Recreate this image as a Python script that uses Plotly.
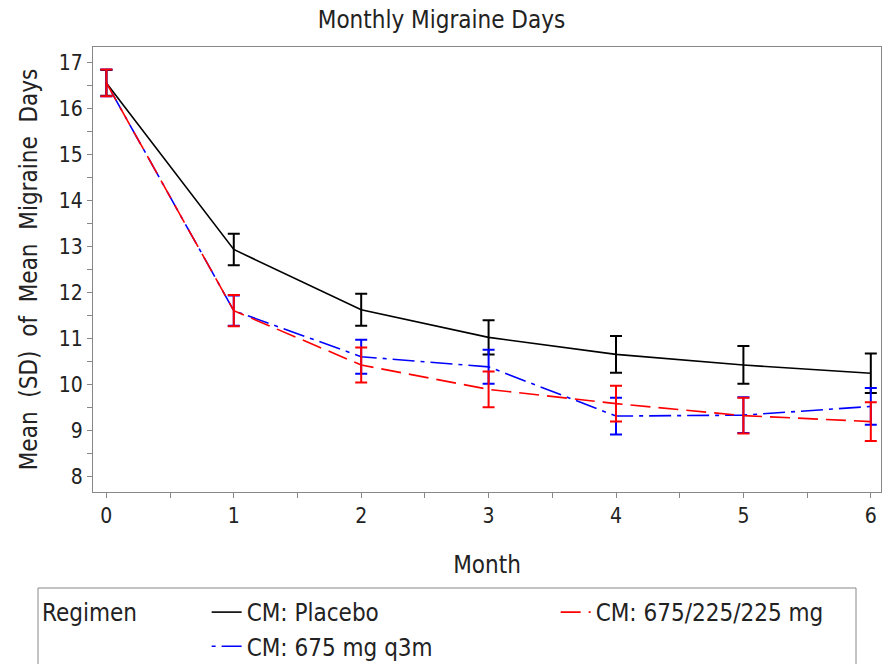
import plotly.graph_objects as go

months = [0, 1, 2, 3, 4, 5, 6]
placebo_mean = [16.55, 12.93, 11.62, 11.02, 10.65, 10.42, 10.24]
placebo_err = [0.28, 0.34, 0.35, 0.37, 0.40, 0.41, 0.43]
q3m_mean = [16.55, 11.60, 10.60, 10.38, 9.31, 9.33, 9.52]
q3m_err = [0.29, 0.33, 0.37, 0.37, 0.40, 0.39, 0.40]
monthly_mean = [16.55, 11.60, 10.42, 9.89, 9.58, 9.32, 9.19]
monthly_err = [0.29, 0.34, 0.38, 0.39, 0.39, 0.39, 0.42]

series_names = ["CM: Placebo", "CM: 675/225/225 mg", "CM: 675 mg q3m"]
x_ticks = [0, 1, 2, 3, 4, 5, 6]
y_ticks = [8, 9, 10, 11, 12, 13, 14, 15, 16, 17]

FONT = "Liberation Sans Narrow, DejaVu Sans Condensed, Liberation Sans, Arial, sans-serif"
TXT = "#222222"
GRAY = "#888888"

fig = go.Figure()

def add(name, mean, err, color, dash, rank):
    fig.add_trace(go.Scatter(
        x=months, y=mean, name=name, mode="lines", legendrank=rank,
        line=dict(color=color, width=1.6, dash=dash),
        error_y=dict(type="data", array=err, visible=True, color=color,
                     thickness=2, width=6),
    ))

add(series_names[0], placebo_mean, placebo_err, "#000000", "solid", 1)
add(series_names[2], q3m_mean, q3m_err, "#0000ff", "4px,6px,22px,6px", 3)
add(series_names[1], monthly_mean, monthly_err, "#ff0000", "20px,8px", 2)

axis_common = dict(
    showline=True, linecolor=GRAY, linewidth=1, mirror=True,
    ticks="outside", ticklen=5, tickcolor=GRAY, showgrid=False,
    zeroline=False, automargin=False,
    tickfont=dict(size=21, color=TXT, family=FONT),
)

fig.update_layout(
    width=883, height=664,
    paper_bgcolor="white", plot_bgcolor="white",
    margin=dict(l=93, r=2, t=47, b=172, autoexpand=False),
    font=dict(family=FONT, color=TXT),
    title=dict(text="Monthly Migraine Days", x=0.5, xanchor="center",
               y=1 - 20 / 664, yanchor="middle", automargin=False,
               font=dict(size=24, family=FONT, color=TXT)),
    xaxis=dict(range=[-0.105, 6.08], tickvals=x_ticks,
               title=dict(text="Month", font=dict(size=24), standoff=28),
               minor=dict(dtick=0.5, ticks="outside", ticklen=5, tickcolor=GRAY),
               **axis_common),
    yaxis=dict(range=[7.66, 17.33], tickvals=y_ticks,
               title=dict(text="Mean  (SD)  of  Mean  Migraine  Days", font=dict(size=24), standoff=14),
               minor=dict(dtick=0.5, ticks="outside", ticklen=5, tickcolor=GRAY),
               **axis_common),
    showlegend=True,
    legend=dict(orientation="h", x=(40 - 93) / 788, xanchor="left", y=(492 - 590) / 445, yanchor="top",
                title=dict(text="Regimen         ", side="left", font=dict(size=24)),
                font=dict(size=24), entrywidth=304, tracegroupgap=0,
                bgcolor="rgba(0,0,0,0)", borderwidth=0),
)

fig.add_shape(type="rect", xref="paper", yref="paper",
              x0=(38 - 93) / 788, x1=(856 - 93) / 788,
              y0=(492 - 700) / 445, y1=(492 - 588) / 445,
              line=dict(color=GRAY, width=1), fillcolor="rgba(0,0,0,0)")

fig.write_html("out.html", config={"displayModeBar": False},
               post_script="document.body.style.margin='0';")
